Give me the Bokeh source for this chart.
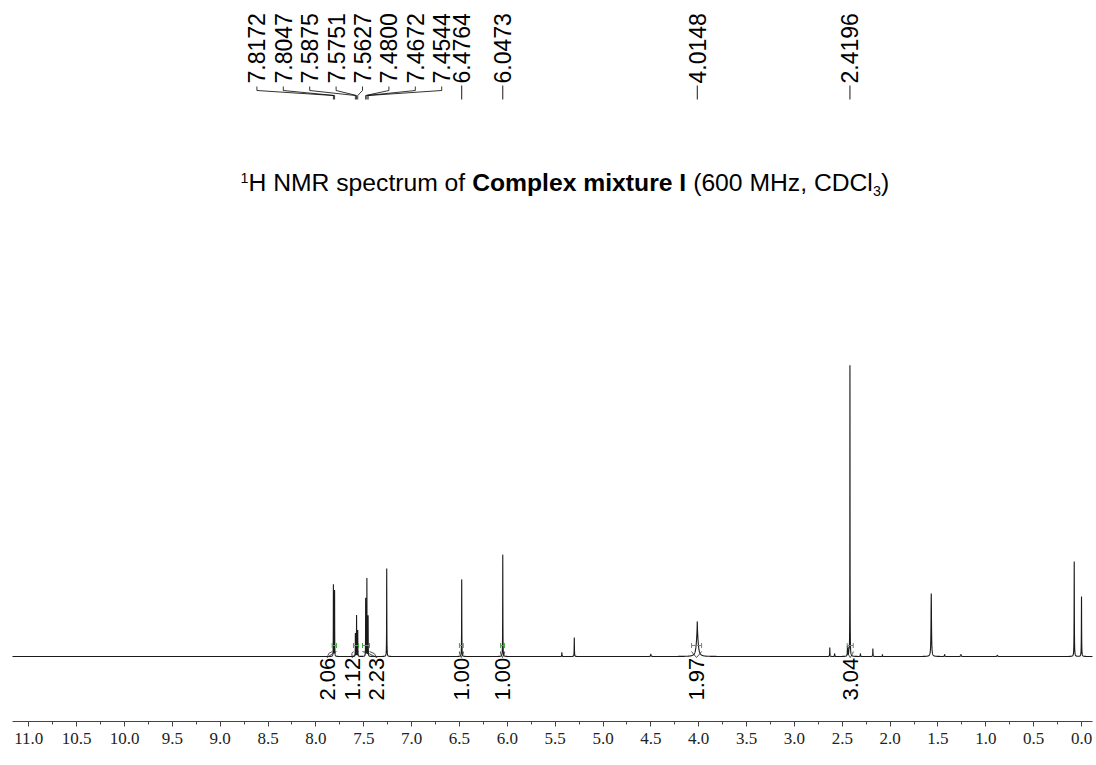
import numpy as np
from bokeh.plotting import figure
from bokeh.models import Range1d, FixedTicker, PrintfTickFormatter, Label
from bokeh.embed import file_html
from bokeh.resources import INLINE
from bokeh.core.properties import value

# ---------------- data ----------------
# spectrum lines: chemical shift (ppm), height (relative, tallest = 100), line width (FWHM, ppm)
peak_ppm = [7.8172, 7.8047, 7.5875, 7.5751, 7.5627, 7.4800, 7.4672, 7.4544, 7.2600,
            6.4764, 6.0473, 5.4300, 5.3000, 4.5000, 4.0148, 4.0148,
            2.6300, 2.5800, 2.4450, 2.4300, 2.4196, 2.3100, 2.1800, 2.0800,
            1.5700, 1.4300, 1.2600, 0.8800, 0.0760, 0.0000]
peak_height = [24.7, 22.7, 8.0, 14.1, 9.0, 20.0, 26.8, 14.0, 30.2,
               26.5, 35.0, 1.4, 6.5, 0.8, 8.5, 3.5,
               3.1, 1.0, 3.5, 2.0, 100.0, 1.0, 2.7, 0.7,
               21.6, 0.7, 0.7, 0.4, 32.6, 20.6]
peak_fwhm = [0.002, 0.002, 0.002, 0.002, 0.002, 0.002, 0.002, 0.002, 0.0025,
             0.0025, 0.0025, 0.003, 0.003, 0.006, 0.022, 0.003,
             0.003, 0.003, 0.004, 0.004, 0.0022, 0.003, 0.003, 0.003,
             0.006, 0.004, 0.006, 0.008, 0.003, 0.003]

# picked peak labels
label_shifts = [7.8172, 7.8047, 7.5875, 7.5751, 7.5627, 7.4800, 7.4672, 7.4544,
                6.4764, 6.0473, 4.0148, 2.4196]
label_texts = ["7.8172", "7.8047", "7.5875", "7.5751", "7.5627", "7.4800", "7.4672",
               "7.4544", "6.4764", "6.0473", "4.0148", "2.4196"]

# integrals
integral_values = ["2.06", "1.12", "2.23", "1.00", "1.00", "1.97", "3.04"]
integral_from = [7.830, 7.607, 7.513, 6.500, 6.070, 4.075, 2.448]
integral_to = [7.785, 7.555, 7.440, 6.460, 6.030, 3.970, 2.385]

# x axis
tick_values = [i * 0.5 for i in range(23)]
minor_values = [i * 0.25 for i in range(45)]
axis_label_text = "f1 (ppm)"

# ---------------- layout constants ----------------
PX_PER_PPM = 95.7          # horizontal scale
ZERO_X = 1081.0            # page x of 0 ppm
BASE_Y = 656.0             # page y of the spectrum baseline
K = 2.91                   # page px per intensity unit
FIG_W, FIG_H = 1096, 765
AXIS_Y = 721.0


def yv(page_y):
    return (BASE_Y - page_y) / K


def xv(page_x):
    return (ZERO_X - page_x) / PX_PER_PPM


x_left = xv(0.0)
x_right = xv(FIG_W)
x_start, x_end = xv(12.0), xv(1092.0)

p = figure(width=FIG_W, height=FIG_H, output_backend="svg", toolbar_location=None,
           x_range=Range1d(x_left, x_right), y_range=Range1d(yv(AXIS_Y), yv(0.0)),
           min_border_left=0, min_border_right=0, min_border_top=0,
           min_border_bottom=int(FIG_H - AXIS_Y))
p.outline_line_color = None
p.grid.visible = False
p.yaxis.visible = False
p.background_fill_color = "white"
p.border_fill_color = "white"

# ---------------- spectrum ----------------
x = np.arange(x_start, x_end, -0.0005)
x = np.sort(np.concatenate([x, np.array(peak_ppm)]))[::-1]
y = np.zeros_like(x)
for c, h, w in zip(peak_ppm, peak_height, peak_fwhm):
    y += h / (1.0 + ((x - c) / (w / 2.0)) ** 2)
p.line(x, y, line_color="#1a1a1a", line_width=1.1)

# ---------------- x axis ----------------
ax = p.xaxis[0]
ax.ticker = FixedTicker(ticks=tick_values, minor_ticks=minor_values)
ax.formatter = PrintfTickFormatter(format="%.1f")
ax.bounds = (x_end, x_start)
ax.axis_line_color = "#444444"
ax.major_tick_line_color = "#444444"
ax.minor_tick_line_color = "#444444"
ax.major_tick_in = 0
ax.major_tick_out = 5
ax.minor_tick_in = 0
ax.minor_tick_out = 3
ax.major_label_standoff = 6
ax.major_label_text_font = "Liberation Serif"
ax.major_label_text_font_size = "17px"
ax.major_label_text_color = "#222222"

p.add_layout(Label(x=xv(555), y=yv(756), text=axis_label_text, text_align="center",
                   text_baseline="middle", text_font="Liberation Serif",
                   text_font_size="16px", text_color="#222222"))

# ---------------- peak labels ----------------
LABEL_GAP = 26.4 / PX_PER_PPM
lab_x = list(label_shifts)
# crowded aromatic group: evenly spread, packed against the 6.4764 label
crowd = [i for i, s in enumerate(label_shifts) if s > 7.0]
end_x = label_shifts[crowd[-1] + 1] + 20.0 / PX_PER_PPM
for k, i in enumerate(reversed(crowd)):
    lab_x[i] = end_x + k * LABEL_GAP

p.text(x=lab_x, y=[yv(83)] * len(lab_x), text=label_texts, angle=np.pi / 2,
       text_align="left", text_baseline="middle", text_font=value("Liberation Sans"),
       text_font_size="23px", text_color="black")
for i, s in enumerate(label_shifts):
    if i in crowd:
        p.line([lab_x[i], lab_x[i], s, s], [yv(86), yv(90), yv(95), yv(99)],
               line_color="black", line_width=0.8)
    else:
        p.line([s, s], [yv(85), yv(99)], line_color="black", line_width=0.9)

# ---------------- integrals ----------------
centers = [(a + b) / 2 for a, b in zip(integral_from, integral_to)]
gap = 0.26
pos = list(centers)
for _ in range(300):
    for i in range(len(pos) - 1):
        d = pos[i] - pos[i + 1]
        if d < gap:
            m = (gap - d) / 2
            pos[i] += m
            pos[i + 1] -= m

p.text(x=pos, y=[yv(700)] * len(pos), text=integral_values, angle=np.pi / 2,
       text_align="left", text_baseline="middle", text_font=value("Liberation Sans"),
       text_font_size="22px", text_color="black")

green = "#3cae3c"
for a, b, lx in zip(integral_from, integral_to, pos):
    ym = yv(645)
    p.line([a, b], [ym, ym], line_color=green, line_width=1)
    p.line([a, a], [yv(642.5), yv(647.5)], line_color=green, line_width=1)
    p.line([b, b], [yv(642.5), yv(647.5)], line_color=green, line_width=1)
    # bracket from the integrated region down to its label
    p.line([a, (a + lx) / 2 + 0.01, lx, (b + lx) / 2 - 0.01, b],
           [yv(651), yv(653), yv(657), yv(653), yv(651)],
           line_color="#222222", line_width=0.8)

# ---------------- title (mixed styles) ----------------
W_REG = {' ': 278, '(': 333, ')': 333, ',': 278, '0': 556, '1': 556, '3': 556, '6': 556,
         'C': 722, 'D': 722, 'H': 722, 'M': 833, 'N': 722, 'R': 722, 'c': 500, 'e': 556,
         'f': 278, 'l': 222, 'm': 833, 'o': 556, 'p': 556, 'r': 333, 's': 500, 't': 278,
         'u': 556, 'z': 500}
W_BOLD = {' ': 278, 'C': 722, 'o': 611, 'm': 889, 'p': 611, 'l': 278, 'e': 556, 'x': 556,
          'i': 278, 't': 333, 'u': 611, 'r': 389, 'I': 278}
TF = 24.7
# (text, style, size factor, vertical offset px, space before)
title_pieces = [("1", "normal", 0.58, -5.0, 0), ("H NMR spectrum of", "normal", 1.0, 0.0, 0),
                ("Complex mixture I", "bold", 1.0, 0.0, 1), ("(600 MHz, CDCl", "normal", 1.0, 0.0, 1),
                ("3", "normal", 0.58, 8.0, 0), (")", "normal", 1.0, 0.0, 0)]
cursor = 240.0
mid = 182.0
for txt, style, f, dy, sp in title_pieces:
    tbl = W_BOLD if style == "bold" else W_REG
    size = TF * f
    cursor += sp * W_REG[' '] / 1000.0 * TF
    p.text(x=[xv(cursor)], y=[yv(mid + dy)], text=[txt], text_align="left",
           text_baseline="middle", text_font=value("Liberation Sans"),
           text_font_style=style, text_font_size=f"{size:.1f}px", text_color="black")
    cursor += sum(tbl[ch] for ch in txt) / 1000.0 * size

open("out.html", "w").write(file_html(p, INLINE))
